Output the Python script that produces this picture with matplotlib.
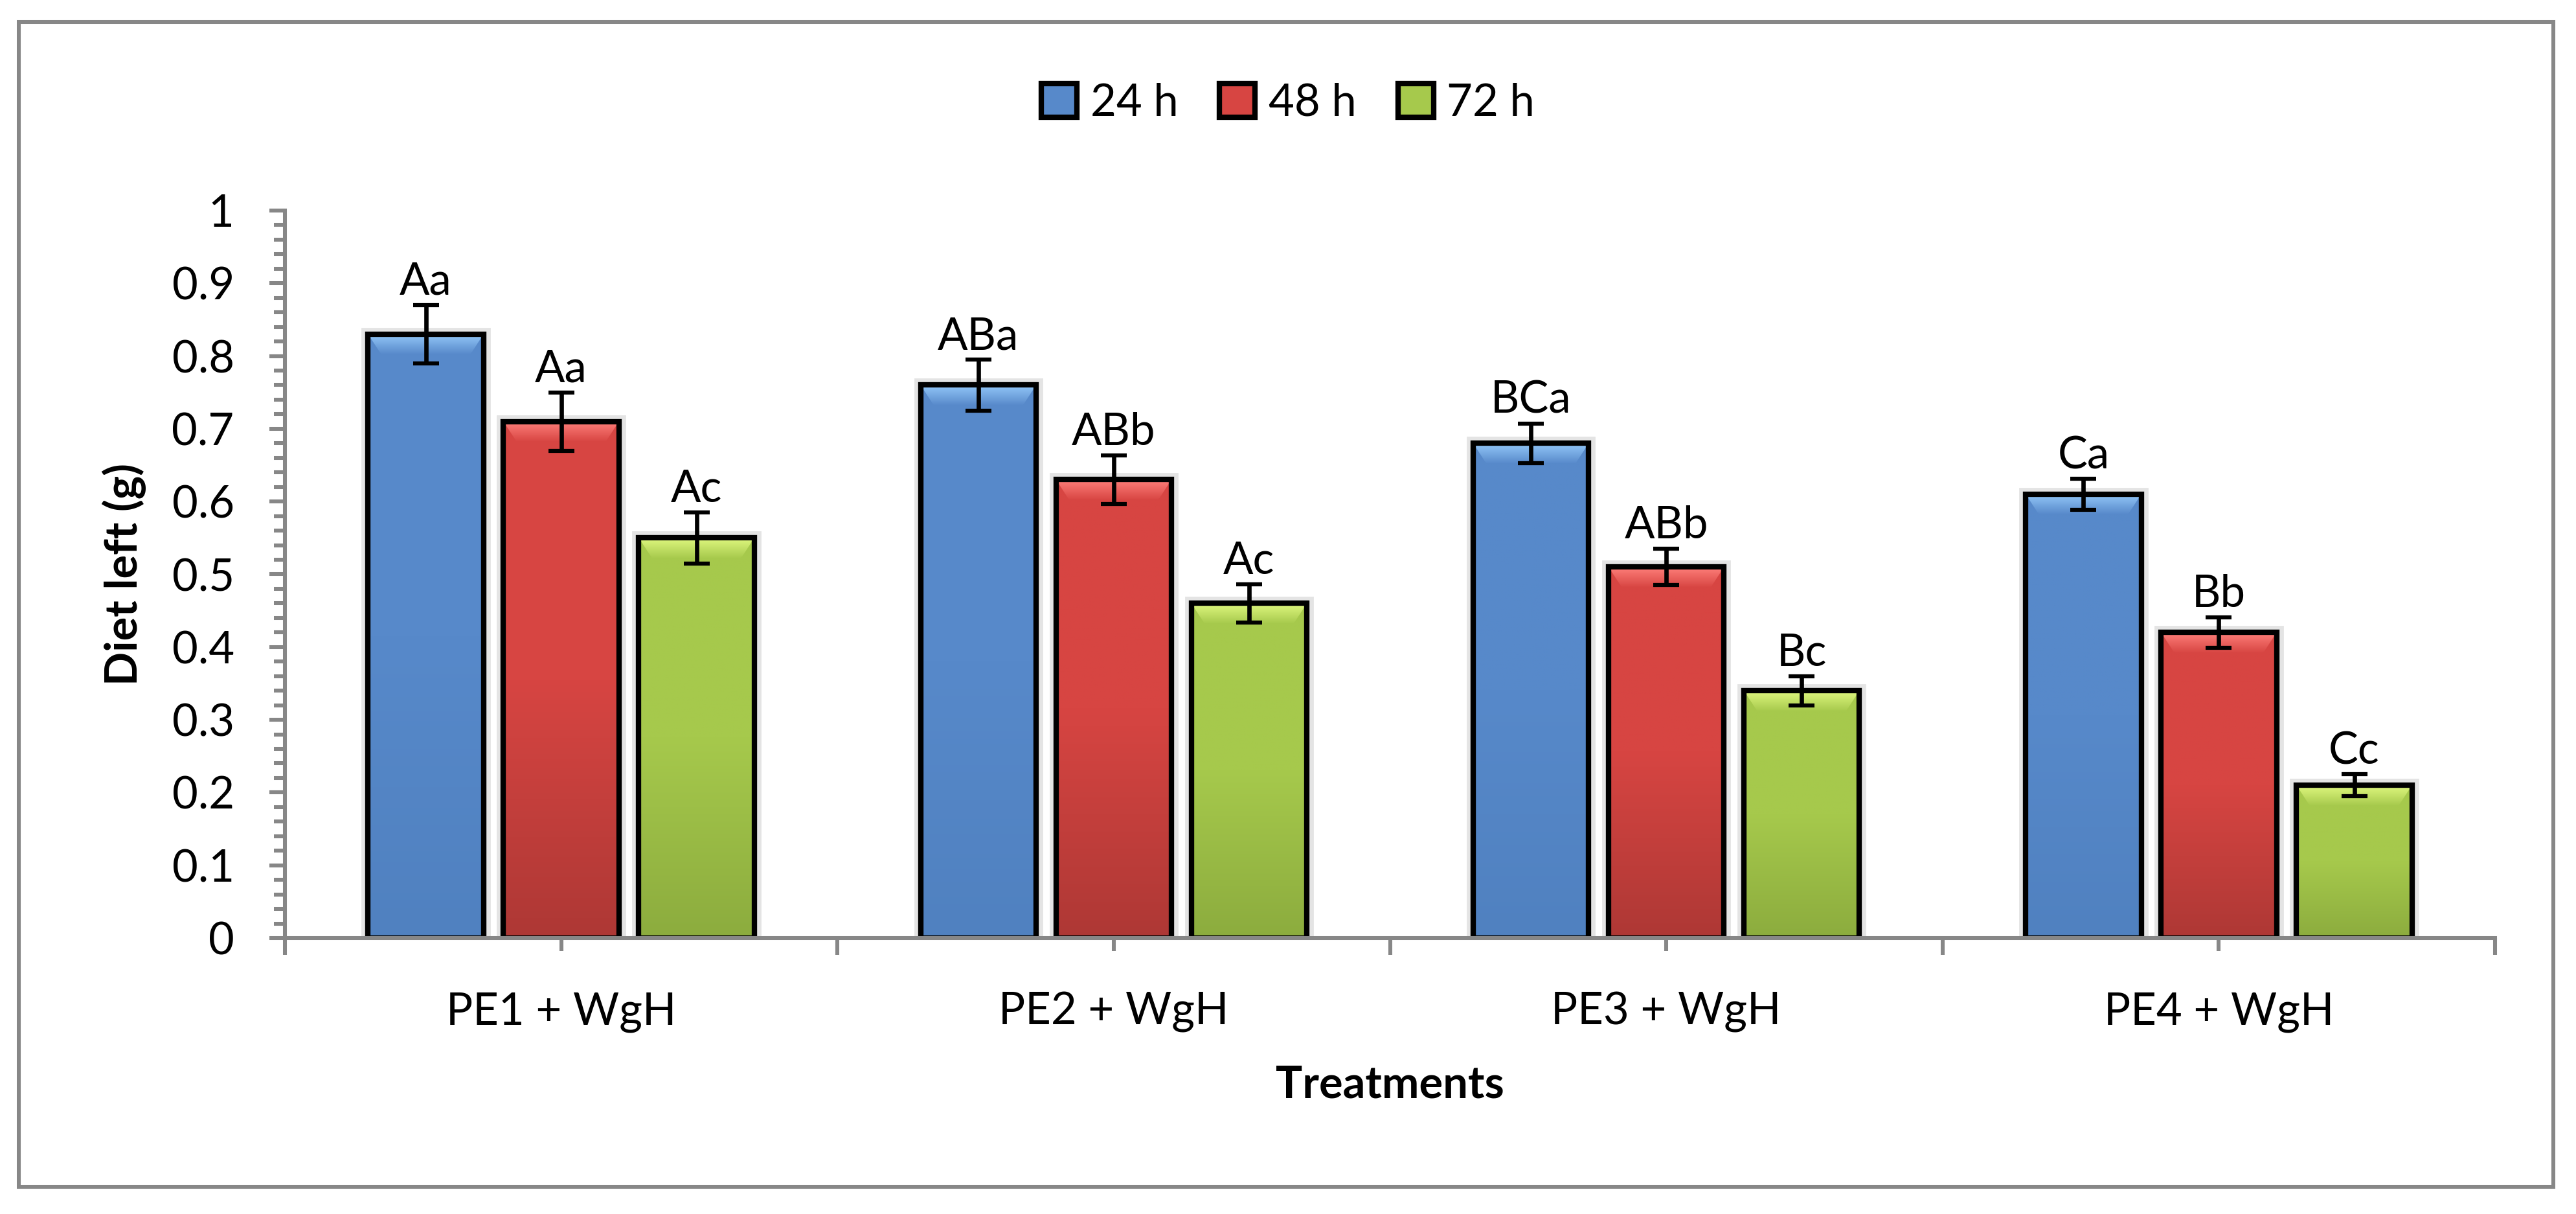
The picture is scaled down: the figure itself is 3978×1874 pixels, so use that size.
import numpy as np
import matplotlib
matplotlib.use('Agg')
import matplotlib.pyplot as plt
from matplotlib.colors import LinearSegmentedColormap
from matplotlib.patches import Polygon, Rectangle
from matplotlib.ticker import MultipleLocator, FuncFormatter

plt.rcParams['font.family'] = ['Lato', 'DejaVu Sans']

# data
treatments = ['PE1 + WgH', 'PE2 + WgH', 'PE3 + WgH', 'PE4 + WgH']
times = ['24 h', '48 h', '72 h']
diet_24 = [0.83, 0.76, 0.68, 0.61]
diet_48 = [0.71, 0.63, 0.51, 0.42]
diet_72 = [0.55, 0.46, 0.34, 0.21]
err_24 = [0.040, 0.035, 0.027, 0.021]
err_48 = [0.040, 0.033, 0.025, 0.021]
err_72 = [0.035, 0.026, 0.020, 0.015]
letters_24 = ['Aa', 'ABa', 'BCa', 'Ca']
letters_48 = ['Aa', 'ABb', 'ABb', 'Bb']
letters_72 = ['Ac', 'Ac', 'Bc', 'Cc']

series = [(diet_24, err_24, letters_24),
          (diet_48, err_48, letters_48),
          (diet_72, err_72, letters_72)]

# styling
main_colors = ['#5789CA', '#D74542', '#A6C94C']
dark_colors = ['#5081C0', '#AE3835', '#8CAC3E']
light_colors = ['#94C8F9', '#FF807B', '#E0F880']
GRAY = '#878787'
FS = 16.5

fig = plt.figure(figsize=(13.26, 6.2467), dpi=300)
ax = fig.add_axes([0.1106, 0.2273, 0.8580, 0.5993])

x = np.arange(len(treatments))
width = 0.209
step = 0.245
ramp = np.linspace(0, 1, 256).reshape(-1, 1)

for i, (vals, errs, letters) in enumerate(series):
    pos = x + (i - 1) * step
    # soft halo / shadow layer
    ax.bar(pos, vals, width, color=main_colors[i], edgecolor='#e4e4e4',
           linewidth=5, zorder=1.5)
    body_cmap = LinearSegmentedColormap.from_list('b%d' % i, [dark_colors[i], main_colors[i], main_colors[i]])
    top_cmap = LinearSegmentedColormap.from_list('t%d' % i, [main_colors[i], light_colors[i]])
    outline = ax.bar(pos, vals, width, fill=False, edgecolor='black',
                     linewidth=2.0, zorder=3)
    for rect in outline:
        x0, w, h = rect.get_x(), rect.get_width(), rect.get_height()
        ax.imshow(ramp, extent=[x0, x0 + w, 0, h], origin='lower', cmap=body_cmap,
                  aspect='auto', zorder=2)
        band = 0.028
        inset = 0.024
        bevel = Polygon([[x0, h], [x0 + w, h], [x0 + w - inset, h - band], [x0 + inset, h - band]],
                        closed=True, facecolor='none', edgecolor='none')
        ax.add_patch(bevel)
        im = ax.imshow(ramp, extent=[x0, x0 + w, h - band, h], origin='lower', cmap=top_cmap,
                       aspect='auto', zorder=2.5)
        im.set_clip_path(bevel)
    ax.errorbar(pos, vals, yerr=errs, fmt='none', ecolor='black', elinewidth=1.6,
                capsize=4.7, capthick=1.5, zorder=5)
    for px, v, e, lab in zip(pos, vals, errs, letters):
        ax.annotate(lab, (px, v + e), xytext=(0, 1), textcoords='offset points',
                    ha='center', va='bottom', fontsize=FS, zorder=6)

ax.set_xlim(-0.5, len(treatments) - 0.5)
ax.set_ylim(0, 1)

# axes look (Excel style)
for side in ['top', 'right']:
    ax.spines[side].set_visible(False)
for side in ['left', 'bottom']:
    ax.spines[side].set_color(GRAY)
    ax.spines[side].set_linewidth(1.45)
    ax.spines[side].set_zorder(4)

ax.yaxis.set_major_locator(MultipleLocator(0.1))
ax.yaxis.set_minor_locator(MultipleLocator(0.02))
ax.yaxis.set_major_formatter(FuncFormatter(lambda v, p: '{:g}'.format(round(v, 2))))
ax.tick_params(axis='y', which='major', length=5.8, width=1.45, color=GRAY,
               labelsize=FS, pad=13)
ax.tick_params(axis='y', which='minor', length=4.1, width=1.45, color=GRAY)

ax.set_xticks(np.arange(-0.5, len(treatments)), minor=False)
ax.set_xticks(x, minor=True)
ax.set_xticklabels([], minor=False)
ax.set_xticklabels(treatments, minor=True)
ax.tick_params(axis='x', which='major', length=6.3, width=1.45, color=GRAY)
ax.tick_params(axis='x', which='minor', length=4.8, width=1.45, color=GRAY,
               labelsize=FS, pad=15)

ax.set_ylabel('Diet left (g)', fontsize=FS, fontweight='bold', va='center')
ax.yaxis.set_label_coords(-0.0727, 0.5)
ax.set_xlabel('Treatments', fontsize=FS, fontweight='bold', va='center')
ax.xaxis.set_label_coords(0.5, -0.202)

handles = [Rectangle((0, 0), 1, 1, facecolor=c, edgecolor='black', linewidth=2)
           for c in main_colors]
fig.legend(handles, times, loc='center', bbox_to_anchor=(0.5, 0.915), ncol=3,
           frameon=False, fontsize=FS, handlelength=0.8, handleheight=0.8,
           handletextpad=0.3, columnspacing=0.93)

# outer chart frame
fig.add_artist(Rectangle((0.0073, 0.0224), 0.9839, 0.9595, transform=fig.transFigure,
                         fill=False, edgecolor=GRAY, linewidth=1.45))

fig.savefig('out.png', dpi=300)
